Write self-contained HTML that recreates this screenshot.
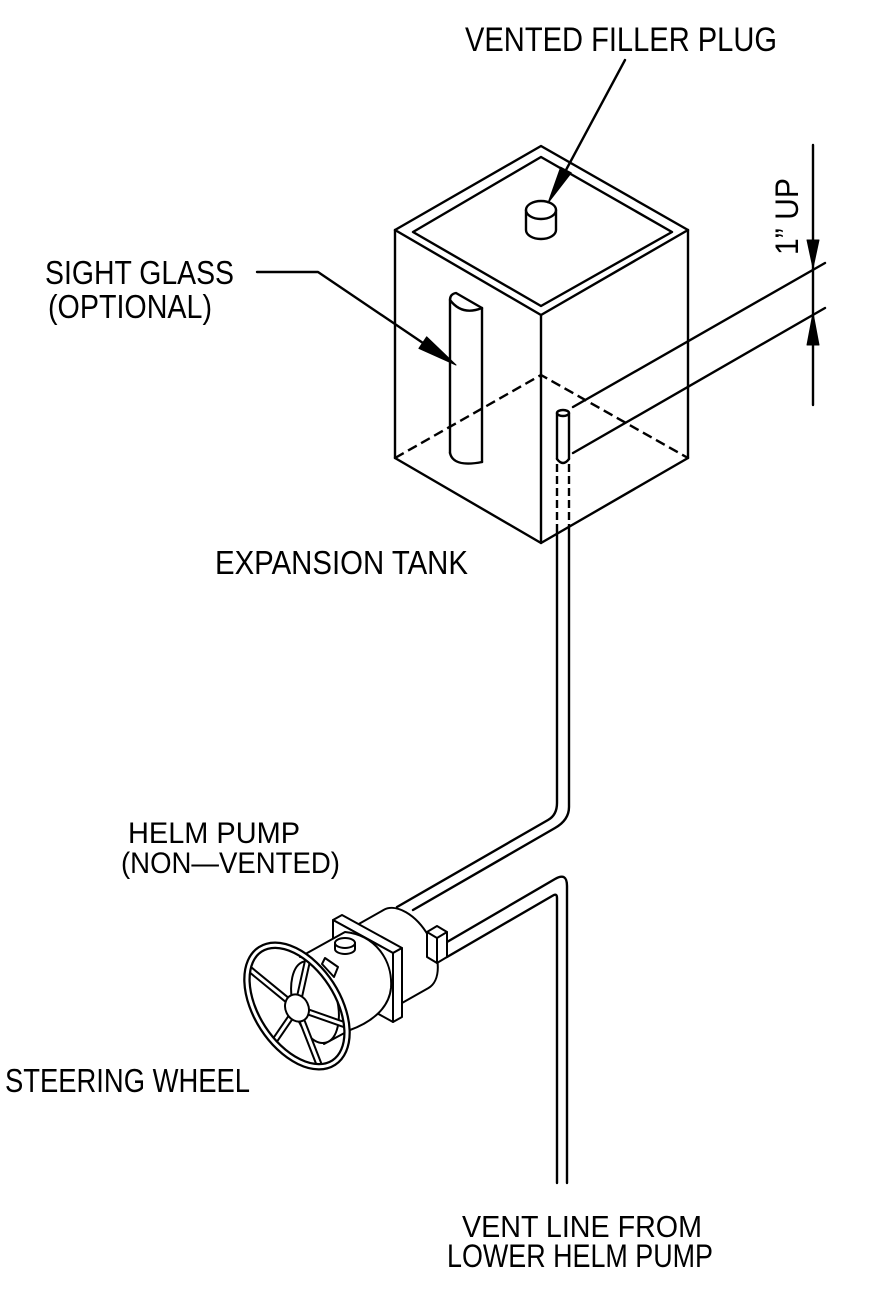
<!DOCTYPE html>
<html><head><meta charset="utf-8"><style>
html,body{margin:0;padding:0;background:#fff;}
svg{display:block;}
text{font-family:"Liberation Sans",sans-serif;fill:#000;stroke:none;}
</style></head><body>
<svg width="870" height="1292" viewBox="0 0 870 1292" xmlns="http://www.w3.org/2000/svg">
<rect x="0" y="0" width="870" height="1292" fill="#fff"/>
<g fill="none" stroke="#000" stroke-width="2.4" stroke-linejoin="round" stroke-linecap="round">
  <!-- TANK -->
  <polygon points="541,146 688,230 541,315 395,230"/>
  <polygon points="541,157 672,232 541,306 413,232"/>
  <line x1="395" y1="230" x2="395" y2="458"/>
  <line x1="541" y1="315" x2="541" y2="543"/>
  <line x1="688" y1="230" x2="688" y2="458"/>
  <polyline points="395,458 541,543 688,458"/>
  <polyline points="395,458 541,375 688,458" stroke-dasharray="10 5" stroke-linecap="butt"/>

  <!-- filler plug -->
  <path d="M526,210 L526,230 A15,9 0 0 0 556,230 L556,210" fill="#fff"/>
  <ellipse cx="541" cy="210" rx="15" ry="9" fill="#fff"/>

  <!-- sight glass -->
  <path d="M450,453 L450,300 Q450,294 456,293 L482,308 L482,462"/>
  <path d="M450,300 Q462,316 482,308"/>
  <path d="M450,453 C452,462 462,466 482,462"/>

  <!-- leaders -->
  <line x1="625" y1="60" x2="566" y2="170"/>
  <polygon points="571.3,172.8 548,203 560.7,167.2" fill="#000" stroke-width="1"/>
  <polyline points="257,272 318,272 423,343"/>
  <polygon points="418.9,348.4 456,365 426.7,336.8" fill="#000" stroke-width="1"/>

  <!-- pipe inside tank -->
  <ellipse cx="563" cy="413" rx="6" ry="3"/>
  <line x1="557" y1="413" x2="557" y2="459"/>
  <line x1="569" y1="413" x2="569" y2="459"/>
  <path d="M557,459 Q563,467 569,459"/>
  <line x1="557" y1="464" x2="557" y2="531" stroke-dasharray="8 4" stroke-linecap="butt"/>
  <line x1="569" y1="464" x2="569" y2="527" stroke-dasharray="8 4" stroke-linecap="butt"/>

  <!-- dimension -->
  <line x1="573" y1="407" x2="825" y2="263"/>
  <line x1="573" y1="453" x2="825" y2="308"/>
  <line x1="813" y1="145" x2="813" y2="405"/>
  <polygon points="807,240 819,240 813,268" fill="#000" stroke-width="1"/>
  <polygon points="807,345 819,345 813,313" fill="#000" stroke-width="1"/>

  <!-- supply pipe -->
  <path d="M557,531 L557,803 Q557,815 548,820 L397,907"/>
  <path d="M569,527 L569,807 Q569,820 555,828 L413,910"/>

  <!-- vent pipe -->
  <path d="M567,1183 L567,886 Q567,872 555,879 L447,942"/>
  <path d="M557,1183 L557,898 Q557,893 553,895.5 L447,957"/>
</g>

<!-- HELM PUMP -->
<g fill="#fff" stroke="#000" stroke-width="2" stroke-linejoin="round" stroke-linecap="round">
  <!-- rear cylinder -->
  <path d="M357,925 L383.5,910 A45,26 60 0 1 428.5,988 L402,1003 Z"/>
  <!-- fitting box -->
  <polygon points="427,932 437,926 447,932 447,957 437,963 427,957"/>
  <polyline points="427,932 437,938 447,932" fill="none"/>
  <line x1="437" y1="938" x2="437" y2="963"/>
  <!-- flange plate -->
  <polygon points="333,920 342,915 402,948 393,953"/>
  <polygon points="393,953 402,948 402,1017 393,1022"/>
  <polygon points="333,920 393,953 393,1022 333,989"/>
  <!-- front cylinder -->
  <path d="M300,957 L345,932 C375,935 393,960 391,988 C389,1008 372,1022 350,1030 L324,1044 Z" stroke="none"/>
  <path d="M300,957 L345,932 C375,935 393,960 391,988 C389,1008 372,1022 350,1030 L324,1044" fill="none"/>
  <ellipse cx="315" cy="1002" rx="22" ry="42" transform="rotate(-15 315 1002)"/>
  <!-- cap on pump -->
  <path d="M335,943 L335,949 A10,5 0 0 0 355,949 L355,943 Z"/>
  <ellipse cx="345" cy="943" rx="10" ry="5"/>
  <!-- diamond -->
  <polygon points="322,964 325,958 338,967 334,977"/>
</g>

<!-- WHEEL -->
<g fill="none" stroke-linecap="butt">
  <g stroke="#000" stroke-width="7">
    <line x1="297" y1="1008" x2="248.2" y2="968"/>
    <line x1="297" y1="1008" x2="273.7" y2="1042"/>
    <line x1="297" y1="1008" x2="319.9" y2="1066.7"/>
    <line x1="297" y1="1008" x2="346.7" y2="1025.5"/>
    <line x1="297" y1="1008" x2="308" y2="958.6"/>
  </g>
  <g stroke="#fff" stroke-width="3">
    <line x1="297" y1="1008" x2="248.2" y2="968"/>
    <line x1="297" y1="1008" x2="273.7" y2="1042"/>
    <line x1="297" y1="1008" x2="319.9" y2="1066.7"/>
    <line x1="297" y1="1008" x2="346.7" y2="1025.5"/>
    <line x1="297" y1="1008" x2="308" y2="958.6"/>
  </g>
  <ellipse cx="297" cy="1006" rx="67.5" ry="40.5" transform="rotate(57 297 1006)" stroke="#000" stroke-width="7.5"/>
  <ellipse cx="297" cy="1006" rx="67.5" ry="40.5" transform="rotate(57 297 1006)" stroke="#fff" stroke-width="3"/>
  <ellipse cx="297" cy="1008" rx="11.5" ry="14" transform="rotate(-25 297 1008)" fill="#fff" stroke="#000" stroke-width="2"/>
</g>

<!-- TEXT -->
<text x="465" y="51" font-size="34" textLength="312" lengthAdjust="spacingAndGlyphs">VENTED  FILLER  PLUG</text>
<text x="45" y="284" font-size="33" textLength="189" lengthAdjust="spacingAndGlyphs">SIGHT  GLASS</text>
<text x="48" y="318" font-size="33" textLength="164" lengthAdjust="spacingAndGlyphs">(OPTIONAL)</text>
<text x="215" y="574" font-size="33" textLength="253" lengthAdjust="spacingAndGlyphs">EXPANSION  TANK</text>
<text x="128" y="843" font-size="30" textLength="172" lengthAdjust="spacingAndGlyphs">HELM  PUMP</text>
<text x="121" y="873" font-size="30" textLength="219" lengthAdjust="spacingAndGlyphs">(NON—VENTED)</text>
<text x="5" y="1092" font-size="33" textLength="245" lengthAdjust="spacingAndGlyphs">STEERING  WHEEL</text>
<text x="462" y="1237" font-size="31" textLength="240" lengthAdjust="spacingAndGlyphs">VENT  LINE  FROM</text>
<text x="447" y="1267" font-size="32" textLength="266" lengthAdjust="spacingAndGlyphs">LOWER  HELM  PUMP</text>
<text transform="translate(798,255) rotate(-90)" x="0" y="0" font-size="32" textLength="77" lengthAdjust="spacingAndGlyphs">1”  UP</text>
</svg>
</body></html>
